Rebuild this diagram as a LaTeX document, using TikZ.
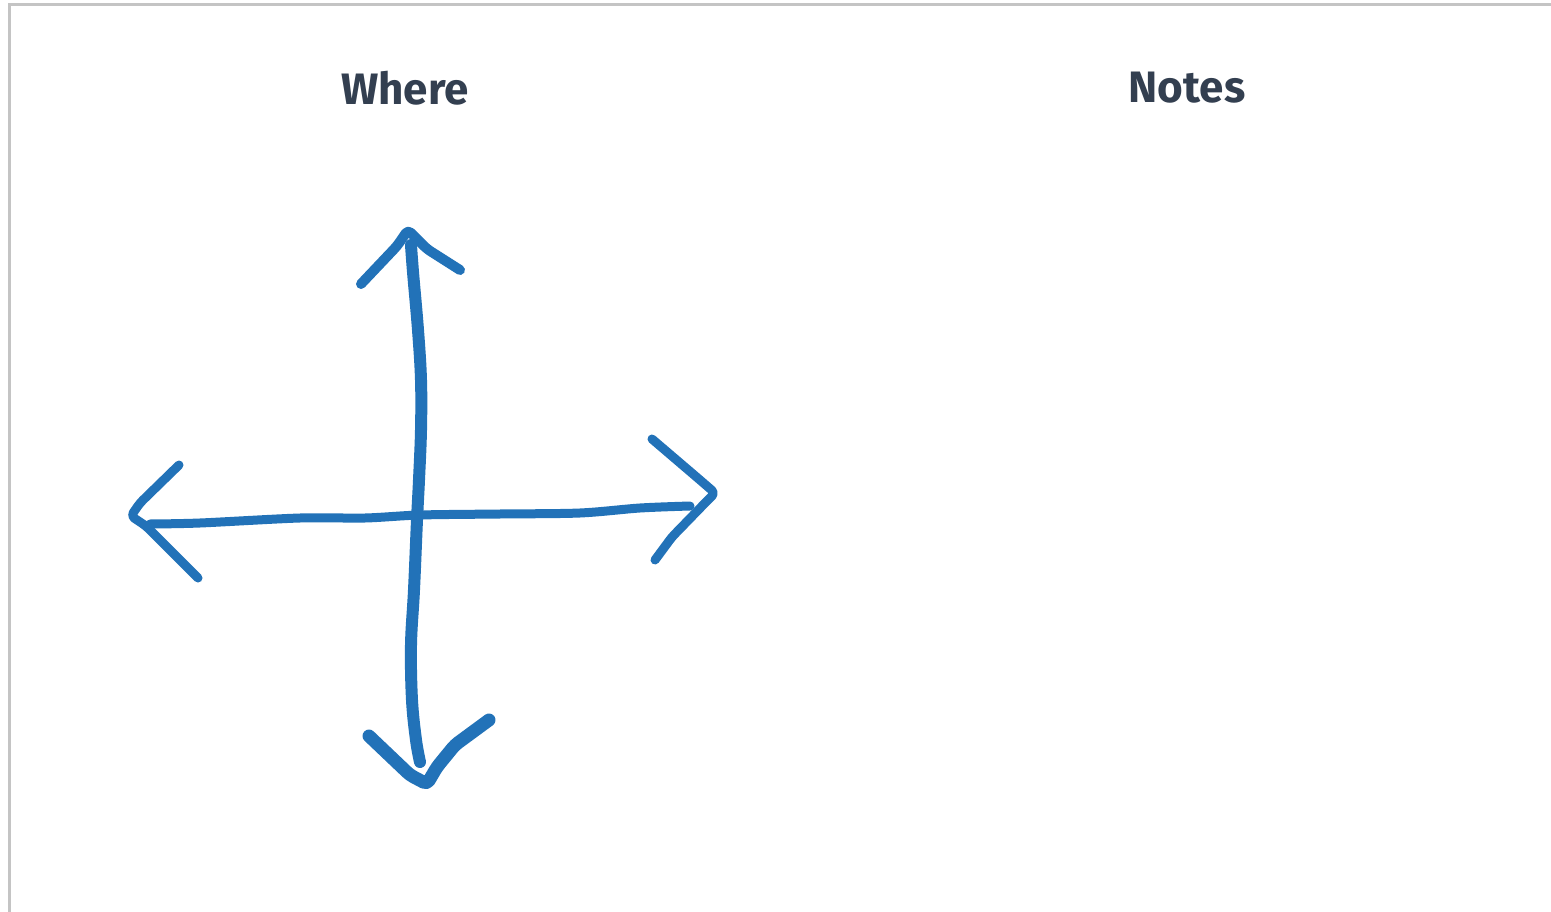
\documentclass[tikz,border=0pt]{standalone}
\usepackage{fontspec}
\setmainfont{Fira Sans}
\definecolor{frame}{HTML}{C4C4C4}
\definecolor{ink}{HTML}{333F50}
\definecolor{pen}{HTML}{2272B8}
\begin{document}
\begin{tikzpicture}[x=1pt,y=-1pt,
  title/.style={text=ink,font=\fontsize{44}{46}\selectfont\bfseries,inner sep=0pt},
  stroke/.style={draw=pen,line cap=round,line join=round,rounded corners=4pt}]
\useasboundingbox (0,0) rectangle (1551,912);
\fill[white] (0,0) rectangle (1551,912);
% frame
\draw[frame,line width=3] (9,912) -- (9,5) -- (1551,5);
% titles
\node[title] (where) at (405,88) {Where};
\node[title] (notes) at (1187,88) {Notes};
% vertical stroke
\draw[draw=pen,line cap=round,line join=round,line width=12] plot[smooth,tension=0.6] coordinates
  {(411,245) (413,272) (418,330) (421,380) (421,430) (419,480) (417,520) (414,590) (411,645) (412,700) (416,740) (420,762)};
% up head
\draw[stroke,line width=10] (361,284) -- (397,246) -- (408,230) -- (427,249) -- (460,270);
% left head
\draw[stroke,line width=9] (179,465) -- (140,503) -- (131,516) -- (146,526) -- (198,578);
% horizontal stroke
\draw[draw=pen,line cap=round,line join=round,line width=9] plot[smooth,tension=0.5] coordinates
  {(150,524) (200,523) (300,518) (365,518) (420,515) (500,514) (580,513) (640,508) (690,506)};
% right head
\draw[stroke,line width=9] (652,439) -- (700,480) -- (715,493) -- (705,503) -- (672,537) -- (655,560);
% down head
\draw[stroke,line width=13] (369,736) -- (410,775) -- (427,784) -- (437,767) -- (455,745) -- (489,720);
\end{tikzpicture}
\end{document}
